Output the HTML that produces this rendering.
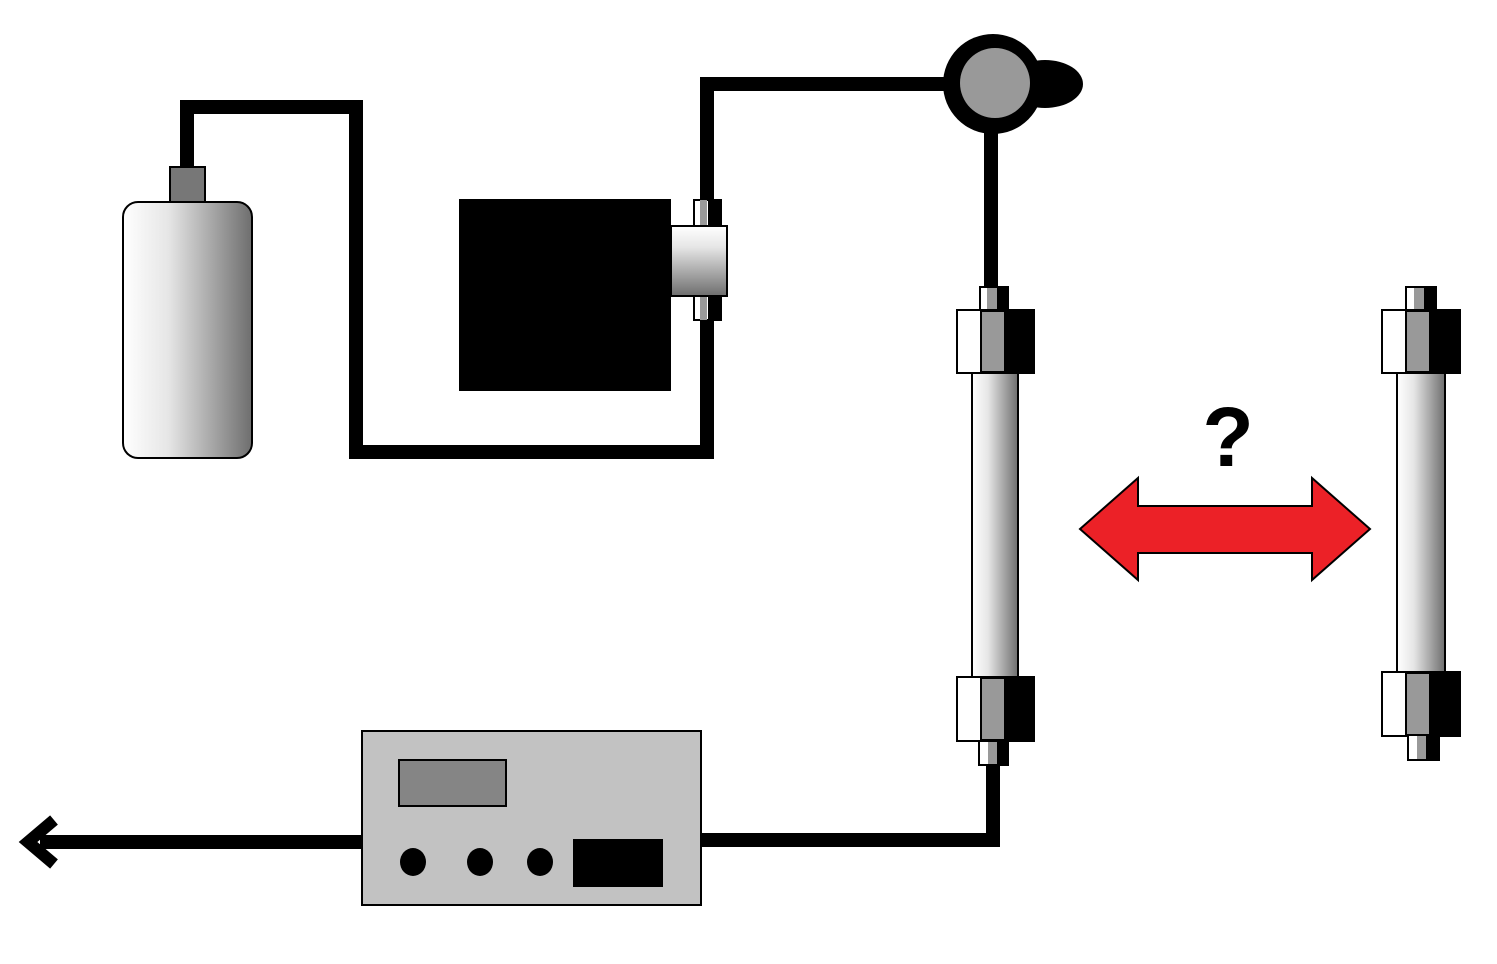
<!DOCTYPE html>
<html><head><meta charset="utf-8"><style>
html,body{margin:0;padding:0;background:#fff;}
svg{display:block;}
</style></head><body>
<svg width="1497" height="964" viewBox="0 0 1497 964" xmlns="http://www.w3.org/2000/svg">
<defs>
<linearGradient id="gh" x1="0" y1="0" x2="1" y2="0">
<stop offset="0" stop-color="#ffffff"/><stop offset="0.35" stop-color="#e6e6e6"/><stop offset="1" stop-color="#6e6e6e"/>
</linearGradient>
<linearGradient id="gv" x1="0" y1="0" x2="0" y2="1">
<stop offset="0" stop-color="#ffffff"/><stop offset="0.3" stop-color="#e6e6e6"/><stop offset="1" stop-color="#6e6e6e"/>
</linearGradient>
</defs>
<g fill="none" stroke="#000" stroke-width="14" stroke-linejoin="miter" stroke-linecap="butt">
<polyline points="187,170 187,107 356,107 356,452 707,452 707,318"/>
<polyline points="707,205 707,84 960,84"/>
<line x1="991" y1="125" x2="991" y2="292"/>
<polyline points="993,760 993,840 700,840"/>
<line x1="362" y1="842" x2="40" y2="842"/>
</g>
<polyline points="54,820 28,842 54,864" fill="none" stroke="#000" stroke-width="12"/>
<!-- bottle -->
<rect x="170" y="167" width="35" height="36" fill="#777" stroke="#000" stroke-width="2"/>
<rect x="123" y="202" width="129" height="256" rx="15" fill="url(#gh)" stroke="#000" stroke-width="2"/>
<!-- pump -->
<rect x="459" y="199" width="212" height="192" fill="#000"/>
<rect x="694" y="200" width="27" height="26" fill="#fff" stroke="#000" stroke-width="2"/>
<rect x="700" y="200" width="7" height="26" fill="#999"/><rect x="708" y="200" width="13" height="26" fill="#000"/>
<rect x="694" y="295" width="27" height="25" fill="#fff" stroke="#000" stroke-width="2"/>
<rect x="700" y="295" width="7" height="25" fill="#999"/><rect x="708" y="295" width="13" height="25" fill="#000"/>
<rect x="671" y="226" width="56" height="70" fill="url(#gv)" stroke="#000" stroke-width="2"/>
<!-- valve -->
<ellipse cx="1045" cy="84" rx="38" ry="24" fill="#000"/>
<circle cx="993" cy="84" r="50" fill="#000"/>
<circle cx="995" cy="83" r="35" fill="#999"/>
<!-- column 1 -->
<g>
<rect x="980" y="287" width="28" height="25" fill="#fff" stroke="#000" stroke-width="2"/>
<rect x="987" y="288" width="10" height="23" fill="#999"/><rect x="997" y="287" width="11" height="25" fill="#000"/>
<rect x="972" y="372" width="46" height="307" fill="url(#gh)" stroke="#000" stroke-width="2"/>
<rect x="957" y="310" width="77" height="63" fill="#fff" stroke="#000" stroke-width="2"/>
<rect x="981" y="311" width="24" height="61" fill="#999" stroke="#000" stroke-width="2"/>
<rect x="1005" y="310" width="29" height="63" fill="#000"/>
<rect x="957" y="677" width="77" height="64" fill="#fff" stroke="#000" stroke-width="2"/>
<rect x="981" y="678" width="24" height="62" fill="#999" stroke="#000" stroke-width="2"/>
<rect x="1005" y="677" width="29" height="64" fill="#000"/>
<rect x="979" y="741" width="29" height="24" fill="#fff" stroke="#000" stroke-width="2"/>
<rect x="988" y="742" width="9" height="22" fill="#999"/><rect x="997" y="741" width="11" height="24" fill="#000"/>
</g>
<!-- column 2 -->
<g>
<rect x="1406" y="287" width="30" height="25" fill="#fff" stroke="#000" stroke-width="2"/>
<rect x="1414" y="288" width="10" height="23" fill="#999"/><rect x="1424" y="287" width="12" height="25" fill="#000"/>
<rect x="1397" y="372" width="48" height="302" fill="url(#gh)" stroke="#000" stroke-width="2"/>
<rect x="1382" y="310" width="78" height="63" fill="#fff" stroke="#000" stroke-width="2"/>
<rect x="1406" y="311" width="24" height="61" fill="#999" stroke="#000" stroke-width="2"/>
<rect x="1430" y="310" width="30" height="63" fill="#000"/>
<rect x="1382" y="672" width="78" height="64" fill="#fff" stroke="#000" stroke-width="2"/>
<rect x="1406" y="673" width="24" height="62" fill="#999" stroke="#000" stroke-width="2"/>
<rect x="1430" y="672" width="30" height="64" fill="#000"/>
<rect x="1408" y="735" width="31" height="25" fill="#fff" stroke="#000" stroke-width="2"/>
<rect x="1417" y="736" width="9" height="23" fill="#999"/><rect x="1426" y="735" width="13" height="25" fill="#000"/>
</g>
<!-- red arrow -->
<polygon points="1080,529 1138,478 1138,506 1312,506 1312,478 1370,529 1312,580 1312,553 1138,553 1138,580" fill="#ec2127" stroke="#000" stroke-width="2"/>
<text x="1228" y="466" font-family="Liberation Sans, sans-serif" font-weight="bold" font-size="84" text-anchor="middle" fill="#000">?</text>
<!-- detector -->
<rect x="362" y="731" width="339" height="174" fill="#c2c2c2" stroke="#000" stroke-width="2"/>
<rect x="399" y="760" width="107" height="46" fill="#858585" stroke="#000" stroke-width="2"/>
<ellipse cx="413" cy="862" rx="13" ry="14" fill="#000"/>
<ellipse cx="480" cy="862" rx="13" ry="14" fill="#000"/>
<ellipse cx="540" cy="862" rx="13" ry="14" fill="#000"/>
<rect x="573" y="839" width="90" height="48" fill="#000"/>
</svg>
</body></html>
